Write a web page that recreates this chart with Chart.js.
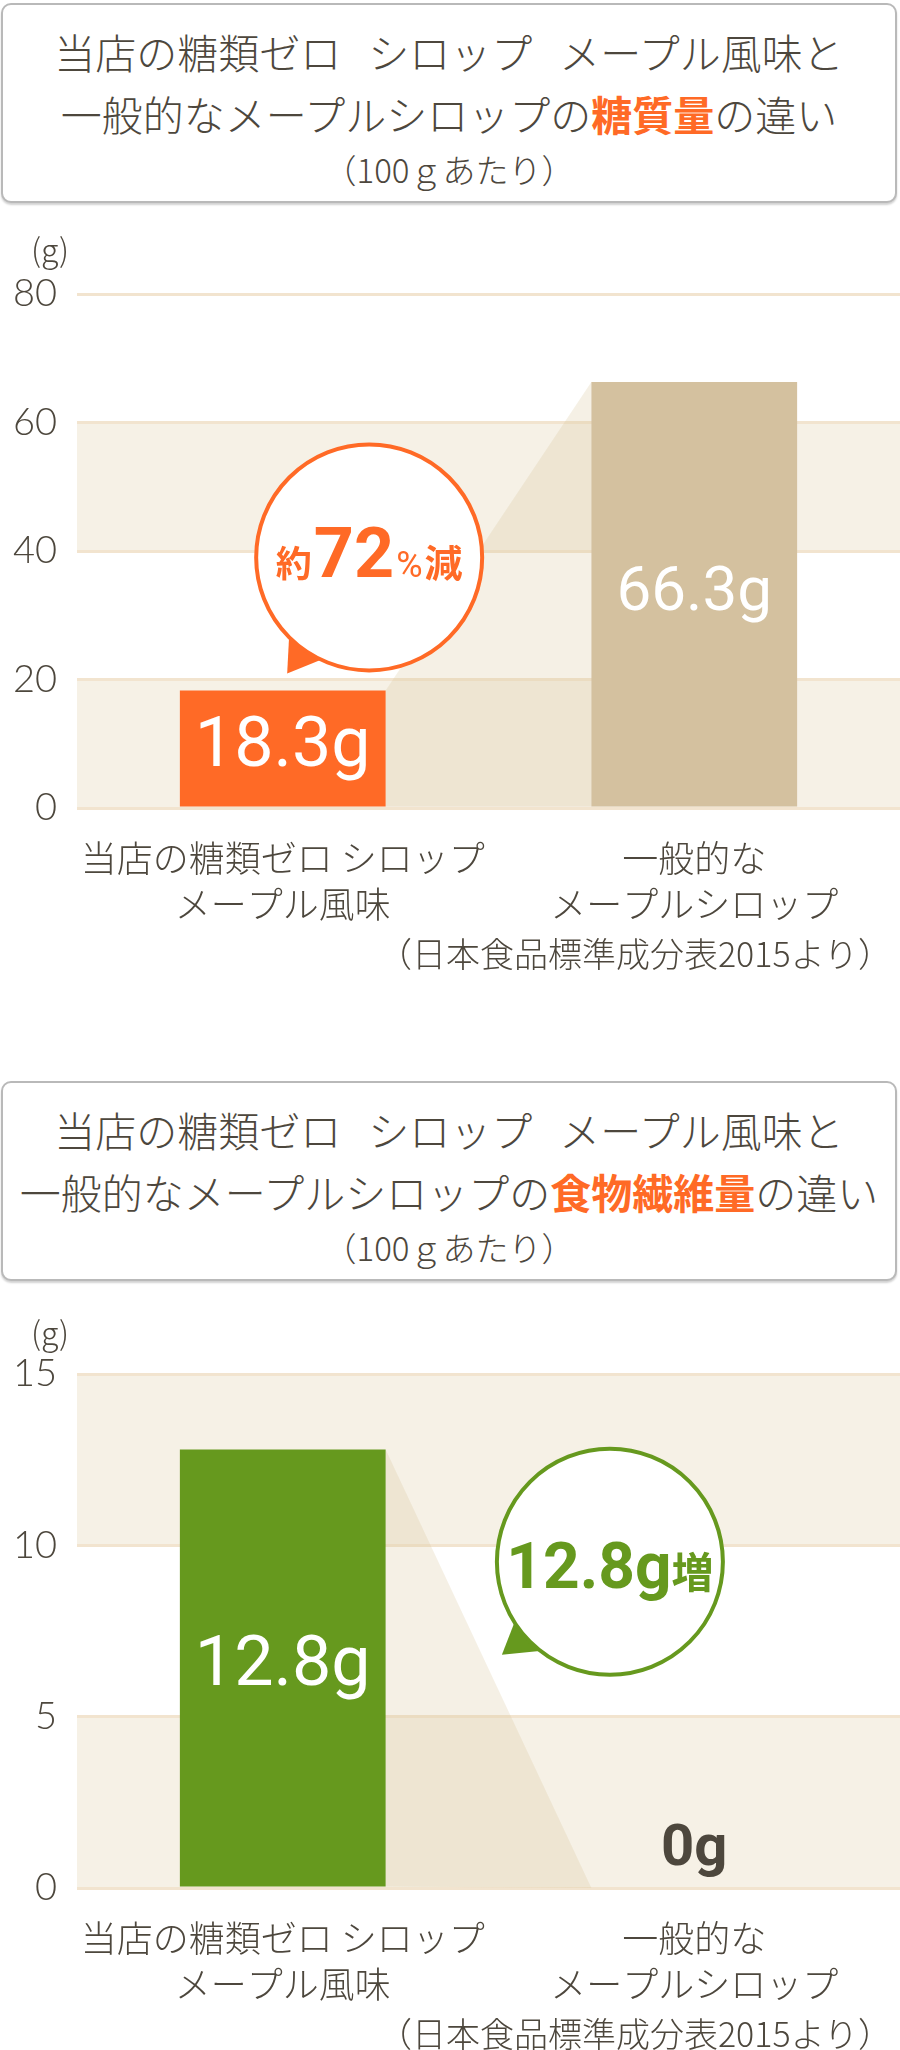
<!DOCTYPE html>
<html lang="ja">
<head>
<meta charset="utf-8">
<title>糖質量と食物繊維量の違い</title>
<script src="https://cdn.jsdelivr.net/npm/chart.js@4.4.1/dist/chart.umd.min.js"></script>
<style>
  body { margin: 0; width: 900px; height: 2050px; position: relative; background: #fff; overflow: hidden;
         font-family: "Noto Sans CJK JP", sans-serif; color: #4d473d; }
  .head { position: absolute; left: 1px; width: 896px; height: 200px; box-sizing: border-box;
          border: 2px solid #b9b9b9; border-radius: 10px; box-shadow: 0 2px 2px rgba(0,0,0,0.18); background: #fff; }
  .head div { position: absolute; left: 0; right: 0; text-align: center; white-space: nowrap; font-weight: 300; }
  .l1, .l2 { font-size: 41px; line-height: 50px; }
  .l1 { top: 21px; word-spacing: 18px; }
  .l2 { top: 83px; }
  .l3 { font-size: 33px; line-height: 40px; top: 144px; }
  .head b { color: #ff6a26; font-weight: 700; }
  .unit { position: absolute; left: 18px; width: 64px; text-align: center; font-size: 32px; line-height: 36px; font-weight: 300; }
  .src { position: absolute; right: 8px; font-size: 34px; line-height: 40px; font-weight: 300; white-space: nowrap; }
  canvas { position: absolute; left: 0; }
</style>
</head>
<body>

<div class="head" style="top:3px">
  <div class="l1">当店の糖類ゼロ シロップ メープル風味と</div>
  <div class="l2">一般的なメープルシロップの<b>糖質量</b>の違い</div>
  <div class="l3">（100ｇあたり）</div>
</div>
<canvas id="sugarChart" width="900" height="740" style="top:230px"></canvas>
<div class="unit" style="top:230px">(g)</div>
<div class="src" style="top:933px">（日本食品標準成分表2015より）</div>

<div class="head" style="top:1081px">
  <div class="l1">当店の糖類ゼロ シロップ メープル風味と</div>
  <div class="l2">一般的なメープルシロップの<b>食物繊維量</b>の違い</div>
  <div class="l3">（100ｇあたり）</div>
</div>
<canvas id="fiberChart" width="900" height="740" style="top:1310px"></canvas>
<div class="unit" style="top:1313px">(g)</div>
<div class="src" style="top:2013px">（日本食品標準成分表2015より）</div>

<script>
// data (g per 100g)
const categories = [['当店の糖類ゼロ シロップ', 'メープル風味'], ['一般的な', 'メープルシロップ']];
const sugarValues = [18.3, 66.3];
const fiberValues = [12.8, 0];
const sugarTicks = [0, 20, 40, 60, 80];
const fiberTicks = [0, 5, 10, 15];
const sugarBubbleText = ['約', '72', '%', '減'];
const fiberBubbleText = ['12.8g', '増'];

const TEXT = '#4d473d';
const ORANGE = '#ff6a26';
const GREEN = '#66991e';
const TAN = '#d4c19f';
const JP = '"Noto Sans CJK JP", sans-serif';

// bands, connecting shade, value labels and the speech bubble
const chartDecor = {
    id: 'chartDecor',
    beforeDraw(chart, args, opts) {
        const ctx = chart.ctx, a = chart.chartArea, y = chart.scales.y;
        ctx.save();
        ctx.fillStyle = '#f6f1e6';
        const t = y.ticks;
        for (let i = 0; i < t.length - 1; i += 2) {
            const y0 = y.getPixelForValue(t[i].value);
            const y1 = y.getPixelForValue(t[i + 1].value);
            ctx.fillRect(a.left, y1, a.right - a.left, y0 - y1);
        }
        ctx.restore();
    },
    beforeDatasetsDraw(chart) {
        const ctx = chart.ctx;
        const bars = chart.getDatasetMeta(0).data;
        const b0 = bars[0], b1 = bars[1];
        const x0 = b0.x + b0.width / 2, x1 = b1.x - b1.width / 2;
        ctx.save();
        ctx.fillStyle = 'rgba(214, 196, 150, 0.25)';
        ctx.beginPath();
        ctx.moveTo(x0, b0.y);
        ctx.lineTo(x1, b1.y);
        ctx.lineTo(x1, b1.base);
        ctx.lineTo(x0, b0.base);
        ctx.closePath();
        ctx.fill();
        ctx.restore();
    },
    afterDatasetsDraw(chart, args, opts) {
        const ctx = chart.ctx;
        const data = chart.data.datasets[0].data;
        const bars = chart.getDatasetMeta(0).data;
        ctx.save();
        ctx.textAlign = 'center';
        ctx.textBaseline = 'middle';
        bars.forEach((bar, i) => {
            const v = data[i];
            ctx.font = opts.labelFonts[i];
            if (v > 0) {
                ctx.fillStyle = '#fff';
                ctx.fillText(v + 'g', bar.x, (bar.y + bar.base) / 2);
            } else {
                ctx.fillStyle = TEXT;
                ctx.fillText(v + 'g', bar.x, bar.base - 38);
            }
        });

        // speech bubble
        const b = opts.bubble;
        const cx = chart.scales.x.getPixelForValue(b.at[0]);
        const cy = chart.scales.y.getPixelForValue(b.at[1]);
        const r = 113;
        ctx.fillStyle = b.color;
        ctx.beginPath();
        ctx.moveTo(cx + b.tail[0][0], cy + b.tail[0][1]);
        ctx.lineTo(cx + b.tail[1][0], cy + b.tail[1][1]);
        ctx.lineTo(cx + b.tail[2][0], cy + b.tail[2][1]);
        ctx.closePath();
        ctx.fill();
        ctx.fillStyle = '#fff';
        ctx.beginPath();
        ctx.arc(cx, cy, r, 0, Math.PI * 2);
        ctx.fill();
        ctx.strokeStyle = b.color;
        ctx.lineWidth = 4;
        ctx.stroke();

        // text runs in the bubble
        ctx.textAlign = 'left';
        ctx.textBaseline = 'alphabetic';
        let total = 0;
        const widths = b.text.map((s, i) => {
            ctx.font = b.fonts[i];
            const w = ctx.measureText(s).width + (b.gaps[i] || 0);
            total += w;
            return w;
        });
        let x = cx - total / 2;
        ctx.fillStyle = b.color;
        b.text.forEach((s, i) => {
            ctx.font = b.fonts[i];
            ctx.fillText(s, x, cy + b.baseline);
            x += widths[i];
        });
        ctx.restore();
    }
};

function makeChart(id, values, colors, yTicks, decor) {
    return new Chart(document.getElementById(id), {
        type: 'bar',
        data: {
            labels: categories,
            datasets: [{
                data: values,
                backgroundColor: colors,
                barPercentage: 1,
                categoryPercentage: 0.5
            }]
        },
        options: {
            responsive: false,
            animation: false,
            layout: { padding: { top: 64, right: 0, bottom: 0, left: 0 } },
            plugins: {
                legend: { display: false },
                tooltip: { enabled: false },
                chartDecor: decor
            },
            scales: {
                x: {
                    grid: { display: false },
                    border: { display: false },
                    ticks: {
                        color: TEXT,
                        font: { family: JP, size: 36, weight: 300, lineHeight: 1.28 },
                        padding: 19,
                        maxRotation: 0,
                        autoSkip: false
                    },
                    afterFit(s) { s.height = 162; }
                },
                y: {
                    min: 0,
                    max: yTicks[yTicks.length - 1],
                    afterBuildTicks(s) { s.ticks = yTicks.map(v => ({ value: v })); },
                    grid: { color: '#f2e4cf', lineWidth: 3, drawTicks: false },
                    border: { display: false },
                    ticks: {
                        color: TEXT,
                        font: { family: 'Lato, ' + JP, size: 38, weight: 300 },
                        padding: 20
                    },
                    afterFit(s) { s.width = 77; }
                }
            }
        },
        plugins: [chartDecor]
    });
}

makeChart('sugarChart', sugarValues, [ORANGE, TAN], sugarTicks, {
    labelFonts: ['400 70px Roboto', '400 62px Roboto'],
    bubble: {
        at: [0.21, 39],
        color: ORANGE,
        text: sugarBubbleText,
        fonts: ['700 36px ' + JP, '700 70px Roboto', '400 36px Roboto', '700 38px ' + JP],
        gaps: [2, 2, 2, 0],
        baseline: 20,
        tail: [[-80, 78], [-82, 116], [-45, 101]]
    }
});

makeChart('fiberChart', fiberValues, [GREEN, TAN], fiberTicks, {
    labelFonts: ['400 70px Roboto', '700 58px Roboto'],
    bubble: {
        at: [0.795, 9.52],
        color: GREEN,
        text: fiberBubbleText,
        fonts: ['700 64px Roboto', '700 42px ' + JP],
        gaps: [0, 0],
        baseline: 26,
        tail: [[-94, 57], [-108, 93], [-68, 89]]
    }
});
</script>
</body>
</html>
